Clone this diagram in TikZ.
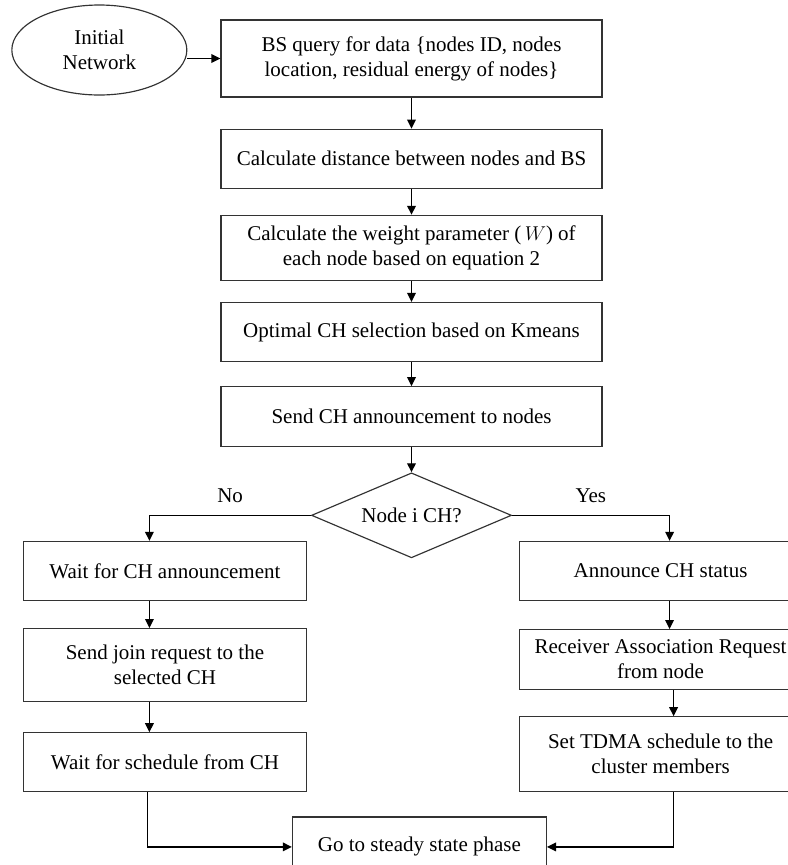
\documentclass[tikz,border=0pt]{standalone}
\usepackage{fontspec}
\setmainfont{Liberation Serif}
\usetikzlibrary{shapes.geometric, arrows.meta, positioning}
\definecolor{edge}{HTML}{333333}
\tikzset{
  startNet/.style = {ellipse, draw=edge, line width=0.7pt, minimum width=105pt,
    minimum height=54pt, inner sep=0pt, align=center},
  stepBox/.style = {rectangle, draw=edge, line width=0.7pt, minimum width=228.6pt,
    minimum height=35.4pt, align=center, inner sep=2pt},
  sideBox/.style = {stepBox, minimum width=169.8pt},
  endBox/.style = {stepBox, minimum width=152.4pt, minimum height=36pt},
  choice/.style = {diamond, aspect=2.35, draw=edge, line width=0.7pt,
    minimum width=120pt, minimum height=51pt, inner sep=0pt},
  flow/.style = {-{Triangle[length=5.4pt, width=5.2pt]}, line width=0.8pt, draw=black},
}

\begin{document}
\begin{tikzpicture}[x=0.6pt, y=-0.6pt,
  every node/.style={align=center, font=\fontsize{12.6}{15}\selectfont}]

\useasboundingbox (0,0) rectangle (788,865);

\node[stepBox, minimum height=46.2pt] (q) at (411.5,58.5) {BS query for data \{nodes ID, nodes\\location, residual energy of nodes\}};
\node[startNet, left=19.8pt of q, yshift=5.1pt] (init) {Initial\\Network};
\node[stepBox, below=18.6pt of q] (dist) {Calculate distance between nodes and BS};
\node[stepBox, below=15.6pt of dist, minimum height=39pt] (wgt) {Calculate the weight parameter (\,$W$) of\\each node based on equation 2};
\node[stepBox, below=12.6pt of wgt] (km) {Optimal CH selection based on Kmeans};
\node[stepBox, below=14.4pt of km, minimum height=36pt] (ann) {Send CH announcement to nodes};
\node[choice, below=15pt of ann] (isch) {Node i CH?};

% not a cluster head
\node[sideBox, below=15.3pt of isch.west, xshift=-87.6pt] (wait) {Wait for CH announcement};
\node[sideBox, below=16.2pt of wait, minimum height=43.8pt] (join) {Send join request to the\\selected CH};
\node[sideBox, below=18pt of join] (sched) {Wait for schedule from CH};

% cluster head
\node[sideBox, below=15.3pt of isch.east, xshift=89.1pt] (chst) {Announce CH status};
\node[sideBox, below=16.8pt of chst, minimum height=36pt] (recv) {Receiver Association Request\\from node};
\node[sideBox, below=15.6pt of recv, minimum height=45pt] (tdma) {Set TDMA schedule to the\\cluster members};

\node[endBox, below=14.4pt of sched, xshift=152.7pt] (steady) {Go to steady state phase};

\draw[flow] (init.east |- q.west) -- (q.west);
\draw[flow] (q) -- (dist);
\draw[flow] (dist) -- (wgt);
\draw[flow] (wgt) -- (km);
\draw[flow] (km) -- (ann);
\draw[flow] (ann) -- (isch);
\draw[flow] (isch.west) -| node[pos=0.25, above=4pt] {No} ([xshift=-9.3pt]wait.north);
\draw[flow] (isch.east) -| node[pos=0.25, above=4pt] {Yes} ([xshift=5.4pt]chst.north);
\draw[flow] ([xshift=-9.3pt]wait.south) -- ([xshift=-9.3pt]join.north);
\draw[flow] ([xshift=-9.3pt]join.south) -- ([xshift=-9.3pt]sched.north);
\draw[flow] ([xshift=5.4pt]chst.south) -- ([xshift=5.4pt]recv.north);
\draw[flow] ([xshift=7.8pt]recv.south) -- ([xshift=7.8pt]tdma.north);
\draw[flow] ([xshift=-10.5pt]sched.south) |- (steady.west);
\draw[flow] ([xshift=7.8pt]tdma.south) |- (steady.east);

\end{tikzpicture}
\end{document}
